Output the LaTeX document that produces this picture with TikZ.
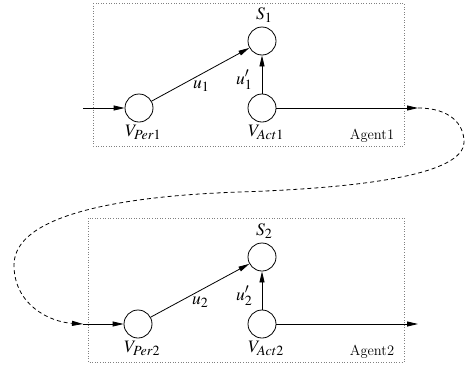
\documentclass[tikz,border=0pt]{standalone}
\usepackage{mathptmx}
\DeclareMathSizes{17.5}{17.5}{14}{11}
\usetikzlibrary{arrows.meta}
\begin{document}
\begin{tikzpicture}[x=1pt,y=-1pt,
  state/.style={circle,draw,line width=0.8pt,minimum size=28pt,inner sep=0pt},
  lbl/.style={inner sep=0pt,font=\fontsize{17.5}{20}\selectfont},
  agentlbl/.style={inner sep=0pt,font=\fontsize{14.5}{16}\selectfont},
  agentbox/.style={draw=gray,dotted,line width=0.6pt},
  arr/.style={line width=0.8pt,-{Triangle[length=11pt,width=5pt]}},
  loop/.style={line width=0.8pt,dashed,dash pattern=on 4pt off 3pt}
]
\useasboundingbox (0,0) rectangle (466,370);
% boxes
\draw[agentbox] (93,3) rectangle (404,146);
\draw[agentbox] (88,218) rectangle (404,362);
% agent 1
\node[state] (vp1) at (139,108) {};
\node[state] (s1) at (262,41) {};
\node[state] (va1) at (262,108) {};
\node[lbl,anchor=base west] (ls1) at (256,19) {$S_1$};
\node[lbl,anchor=base west] (lvp1) at (125,136) {$V_{Per1}$};
\node[lbl,anchor=base west] (lva1) at (248,136) {$V_{Act1}$};
\node[agentlbl,anchor=base] (ag1) at (372,139) {Agent1};
\coordinate (in1) at (83,108);
\coordinate (out1) at (418,108);
\draw[arr] (in1) -- (vp1);
\draw[arr] (vp1) -- (s1);
\draw[arr] (va1) -- (s1);
\draw[arr] (va1) -- (out1);
\node[lbl,anchor=base west] (lu1) at (193,88) {$u_1$};
\node[lbl,anchor=base west] (lu1p) at (236,84) {$u'_1$};
% agent 2
\node[state] (vp2) at (138,324) {};
\node[state] (s2) at (262,257) {};
\node[state] (va2) at (262,324) {};
\node[lbl,anchor=base west] (ls2) at (256,235) {$S_2$};
\node[lbl,anchor=base west] (lvp2) at (124,352) {$V_{Per2}$};
\node[lbl,anchor=base west] (lva2) at (248,352) {$V_{Act2}$};
\node[agentlbl,anchor=base] (ag2) at (372,355) {Agent2};
\coordinate (in2) at (83,324);
\coordinate (out2) at (418,324);
\draw[arr] (in2) -- (vp2);
\draw[arr] (vp2) -- (s2);
\draw[arr] (va2) -- (s2);
\draw[arr] (va2) -- (out2);
\node[lbl,anchor=base west] (lu2) at (192,304) {$u_2$};
\node[lbl,anchor=base west] (lu2p) at (236,300) {$u'_2$};
% loop connector
\coordinate (r) at (464,142);
\coordinate (m) at (240,192);
\coordinate (l) at (14,265);
\draw[loop,-{Triangle[length=11pt,width=5pt]}] (out1) .. controls (450,108) and (464,124) .. (r)
  .. controls (464,175) and (360,188) .. (m)
  .. controls (120,196) and (14,215) .. (l)
  .. controls (14,305) and (50,322) .. (in2);
\end{tikzpicture}
\end{document}
